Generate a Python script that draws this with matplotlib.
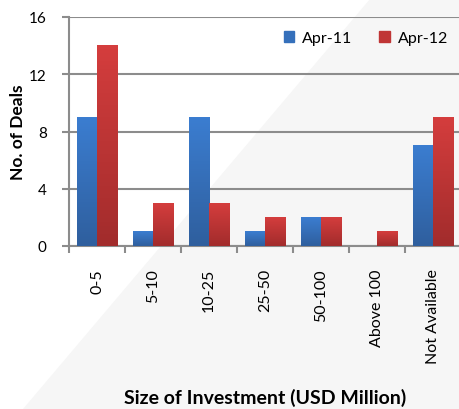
import numpy as np
import matplotlib.pyplot as plt
from matplotlib.patches import Polygon
from matplotlib.colors import LinearSegmentedColormap

categories = ['0-5', '5-10', '10-25', '25-50', '50-100', 'Above 100', 'Not Available']
apr11 = [9, 1, 9, 1, 2, 0, 7]
apr12 = [14, 3, 3, 2, 2, 1, 9]
yticks = [0, 4, 8, 12, 16]

plt.rcParams['font.family'] = ['Lato', 'DejaVu Sans']

fig = plt.figure(figsize=(4.59, 4.10), dpi=100)

# diagonal light-grey background
fig.patches.append(Polygon([(370 / 459, 1), (1, 1), (1, 0), (23 / 459, 0)],
                           closed=True, transform=fig.transFigure,
                           facecolor='#f6f6f6', edgecolor='none', zorder=-5))

ax = fig.add_axes([69 / 459, 1 - 247 / 410, 392 / 459, 229 / 410])
ax.set_zorder(2)
ax.patch.set_alpha(0)

x = np.arange(len(categories))
w = 0.36

blue_cm = LinearSegmentedColormap.from_list('b', ['#2f5f9e', '#3b7dd0'])
red_cm = LinearSegmentedColormap.from_list('r', ['#a22c2c', '#d43d3d'])
grad = np.linspace(0, 1, 50).reshape(-1, 1)

for vals, offs, cm, col in [(apr11, -w / 2, blue_cm, '#3570bb'),
                            (apr12, w / 2, red_cm, '#c03535')]:
    bars = ax.bar(x + offs, vals, width=w, color=col, zorder=2)
    for b in bars:
        if b.get_height() <= 0:
            continue
        ax.imshow(grad, cmap=cm, aspect='auto', origin='lower', zorder=3,
                  extent=(b.get_x(), b.get_x() + b.get_width(), 0, b.get_height()))

ax.set_xlim(-0.5, len(categories) - 0.5)
ax.set_ylim(0, 16)
ax.set_yticks(yticks)
ax.yaxis.grid(True, color='#8c8c8c', linewidth=1.5, zorder=1)
ax.set_axisbelow(True)

ax.set_xticks(x)
ax.set_xticklabels(categories, rotation=90, fontsize=11.5)
ax.set_xticks(np.arange(len(categories) + 1) - 0.5, minor=True)
ax.tick_params(axis='x', which='major', length=0, pad=16)
ax.tick_params(axis='x', which='minor', length=5, width=1.5, color='#8c8c8c')
ax.tick_params(axis='y', length=5, width=1.5, color='#8c8c8c', labelsize=11, pad=11)

for s in ['top', 'right']:
    ax.spines[s].set_visible(False)
for s in ['left', 'bottom']:
    ax.spines[s].set_color('#8c8c8c')
    ax.spines[s].set_linewidth(1.5)

ax.set_ylabel('No. of Deals', fontsize=12.5, fontweight='bold')
ax.yaxis.set_label_coords(-(69 - 26) / 392, 0.5)
ax.set_xlabel('Size of Investment (USD Million)', fontsize=14, fontweight='bold')
ax.xaxis.set_label_coords(196 / 392, -(389 - 247) / 229)

h1 = plt.Rectangle((0, 0), 1, 1, color='#3570bb')
h2 = plt.Rectangle((0, 0), 1, 1, color='#c03535')
ax.legend([h1, h2], ['Apr-11', 'Apr-12'], loc='upper right', ncol=2, frameon=False,
          fontsize=11.5, handlelength=0.65, handleheight=0.65, columnspacing=1.7,
          handletextpad=0.5, bbox_to_anchor=(1.004, 1.0))

fig.savefig('out.png', dpi=100)
